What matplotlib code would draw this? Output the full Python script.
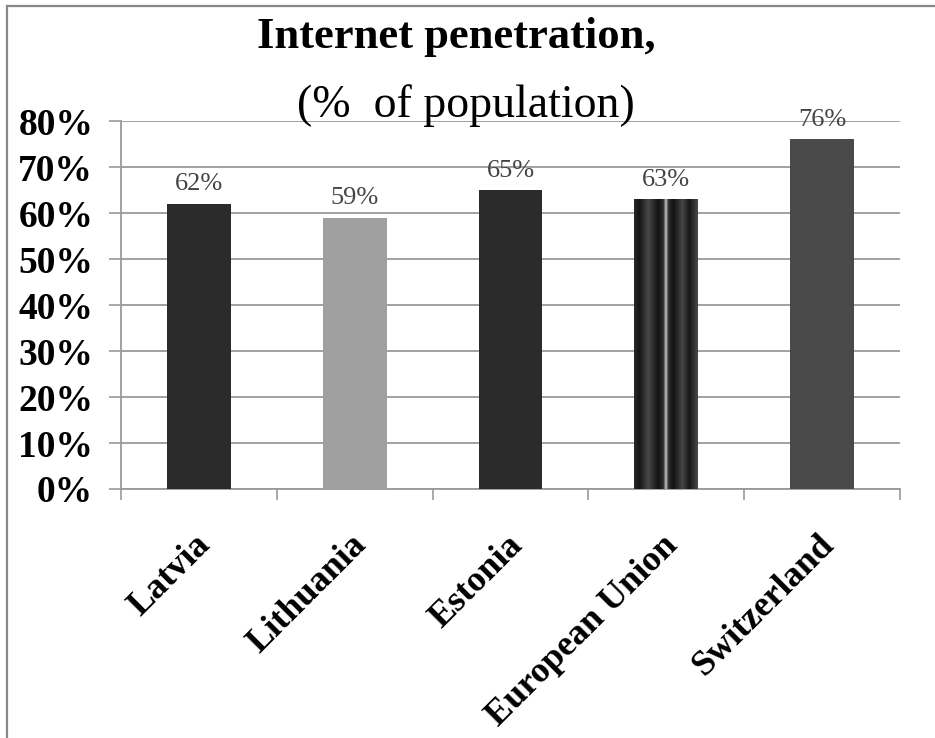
import numpy as np
import matplotlib
matplotlib.use("Agg")
import matplotlib.pyplot as plt
from matplotlib.colors import LinearSegmentedColormap
from matplotlib.ticker import FuncFormatter

plt.rcParams["font.family"] = ["Liberation Serif", "DejaVu Serif"]

countries = ["Latvia", "Lithuania", "Estonia", "European Union", "Switzerland"]
penetration = [62, 59, 65, 63, 76]
bar_colors = ["#2b2b2b", "#a0a0a0", "#2b2b2b", "#2b2b2b", "#4a4a4a"]
y_ticks = [0, 10, 20, 30, 40, 50, 60, 70, 80]

# striped shading used for the EU bar
stripe_cmap = LinearSegmentedColormap.from_list(
    "stripes",
    [(0.0, "#2a2a2a"), (0.08, "#141414"), (0.22, "#484848"), (0.38, "#121212"),
     (0.46, "#2e2e2e"), (0.50, "#c4c4c4"), (0.54, "#2e2e2e"), (0.62, "#121212"),
     (0.76, "#454545"), (0.87, "#161616"), (1.0, "#4a4a4a")],
)

fig = plt.figure(figsize=(9.35, 7.38), dpi=100)
ax = fig.add_axes([0.1294, 0.3374, 0.8332, 0.4986])

x = np.arange(len(countries))
bars = ax.bar(x, penetration, width=0.41, color=bar_colors, zorder=3)

eu = bars[3]
grad = np.linspace(0, 1, 256).reshape(1, -1)
im = ax.imshow(grad, cmap=stripe_cmap, aspect="auto", zorder=4,
               extent=(eu.get_x(), eu.get_x() + eu.get_width(), 0, eu.get_height()))
im.set_clip_path(eu)

for b, v in zip(bars, penetration):
    ax.annotate(f"{v}%", (b.get_x() + b.get_width() / 2, v), xytext=(0, 6),
                textcoords="offset points", ha="center", va="bottom",
                fontsize=19, color="#444444", zorder=5)

ax.set_xlim(-0.5, len(countries) - 0.5)
ax.set_ylim(0, 80)
ax.set_yticks(y_ticks)
ax.yaxis.set_major_formatter(FuncFormatter(lambda v, _: f"{v:.0f}%"))
ax.yaxis.grid(True, color="#9a9a9a", linewidth=1.3, zorder=0)
ax.set_axisbelow(True)

ax.set_xticks(np.arange(len(countries) + 1) - 0.5)
ax.set_xticklabels([])
ax.tick_params(axis="x", direction="out", length=8, color="#9a9a9a", width=1.2)
ax.tick_params(axis="y", direction="out", length=9, color="#9a9a9a", width=1.2,
               labelsize=27, pad=11)
for lbl in ax.get_yticklabels():
    lbl.set_fontweight("bold")

for side in ["top", "right"]:
    ax.spines[side].set_visible(False)
for side in ["left", "bottom"]:
    ax.spines[side].set_color("#9a9a9a")
    ax.spines[side].set_linewidth(1.3)

for i, name in enumerate(countries):
    ax.annotate(name, (i, 0), xytext=(5, -37), textcoords="offset points",
                rotation=45, rotation_mode="anchor", ha="right", va="center",
                fontsize=26, fontweight="bold")

fig.text(0.488, 0.935, "Internet penetration,", ha="center", va="baseline",
         fontsize=32, fontweight="bold")
fig.text(0.498, 0.842, "(%  of population)", ha="center", va="baseline",
         fontsize=33)

# outer frame on the left and top edges
fig.add_artist(plt.Line2D([0.0075, 0.0075], [0, 0.992], transform=fig.transFigure,
                          color="#888888", linewidth=1.6))
fig.add_artist(plt.Line2D([0.0075, 1.0], [0.992, 0.992], transform=fig.transFigure,
                          color="#888888", linewidth=1.6))

fig.savefig("out.png", dpi=100, facecolor="white")
